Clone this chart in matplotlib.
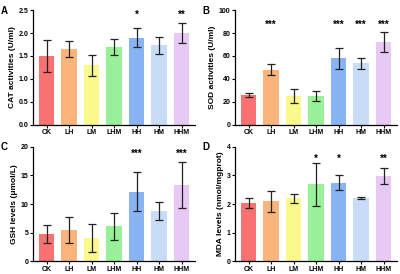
import matplotlib.pyplot as plt
import numpy as np

plt.rcParams['font.family'] = ['Liberation Sans', 'DejaVu Sans']

groups = ['CK', 'LH', 'LM', 'LHM', 'HH', 'HM', 'HHM']
colors = ['#F87272', '#FBB47C', '#FAF98C', '#98F098', '#88B4F4', '#C8DCF8', '#E8C8F4']

cat_mean = [1.5, 1.65, 1.3, 1.7, 1.9, 1.73, 2.0]
cat_err = [0.35, 0.17, 0.23, 0.17, 0.21, 0.19, 0.22]
cat_sig = ['', '', '', '', '*', '', '**']

sod_mean = [26, 48, 25, 25, 58, 53.5, 72]
sod_err = [2, 5, 6, 4, 9, 4.5, 8.5]
sod_sig = ['', '***', '', '', '***', '***', '***']

gsh_mean = [4.8, 5.5, 4.1, 6.1, 12.2, 8.8, 13.3]
gsh_err = [1.6, 2.3, 2.4, 2.4, 3.4, 1.5, 4.0]
gsh_sig = ['', '', '', '', '***', '', '***']

mda_mean = [2.05, 2.1, 2.2, 2.7, 2.75, 2.22, 2.97]
mda_err = [0.18, 0.36, 0.15, 0.75, 0.26, 0.04, 0.28]
mda_sig = ['', '', '', '*', '*', '', '**']

panels = [
    ('A', cat_mean, cat_err, cat_sig, 'CAT activities (U/ml)', 2.5, [0, 0.5, 1.0, 1.5, 2.0, 2.5], '%.1f', 2.40),
    ('B', sod_mean, sod_err, sod_sig, 'SOD activities (U/ml)', 100, [0, 20, 40, 60, 80, 100], '%d', 87),
    ('C', gsh_mean, gsh_err, gsh_sig, 'GSH levels (\u03bcmol/L)', 20, [0, 5, 10, 15, 20], '%d', 18.8),
    ('D', mda_mean, mda_err, mda_sig, 'MDA levels (nmol/mgprot)', 4, [0, 1, 2, 3, 4], '%d', 3.58),
]

fig = plt.figure(figsize=(4, 2.74), dpi=100)
positions = [(0.0825, 0.545), (0.5875, 0.545), (0.0825, 0.046), (0.5875, 0.046)]
x = np.arange(len(groups))

for (letter, mean, err, sig, ylabel, ymax, yticks, fmt, stary), (l, b) in zip(panels, positions):
    ax = fig.add_axes([l, b, 0.405, 0.418])
    ax.bar(x, mean, width=0.7, color=colors, zorder=1)
    ax.errorbar(x, mean, yerr=err, fmt='none', ecolor='#222222', elinewidth=0.9,
                capsize=3.2, capthick=0.9, zorder=2)
    for xi, s in zip(x, sig):
        if s:
            ax.text(xi, stary, s, ha='center', va='center', fontsize=7, fontweight='bold')
    ax.set_xlim(-0.6, 6.6)
    ax.set_ylim(0, ymax)
    ax.set_yticks(yticks)
    ax.set_yticklabels([fmt % t for t in yticks])
    ax.set_xticks(x)
    ax.set_xticklabels(groups)
    ax.spines['top'].set_visible(False)
    ax.spines['right'].set_visible(False)
    for sp in ['left', 'bottom']:
        ax.spines[sp].set_linewidth(0.9)
    ax.tick_params(axis='both', labelsize=5, width=0.8, length=2.2, pad=1)
    for t in ax.get_xticklabels() + ax.get_yticklabels():
        t.set_fontweight('bold')
    ax.set_ylabel(ylabel, fontsize=6, fontweight='bold', labelpad=2)
    ax.text(-0.2, 1.04, letter, transform=ax.transAxes, fontsize=7, fontweight='bold',
            ha='left', va='top')

fig.savefig('out.png', dpi=100)
